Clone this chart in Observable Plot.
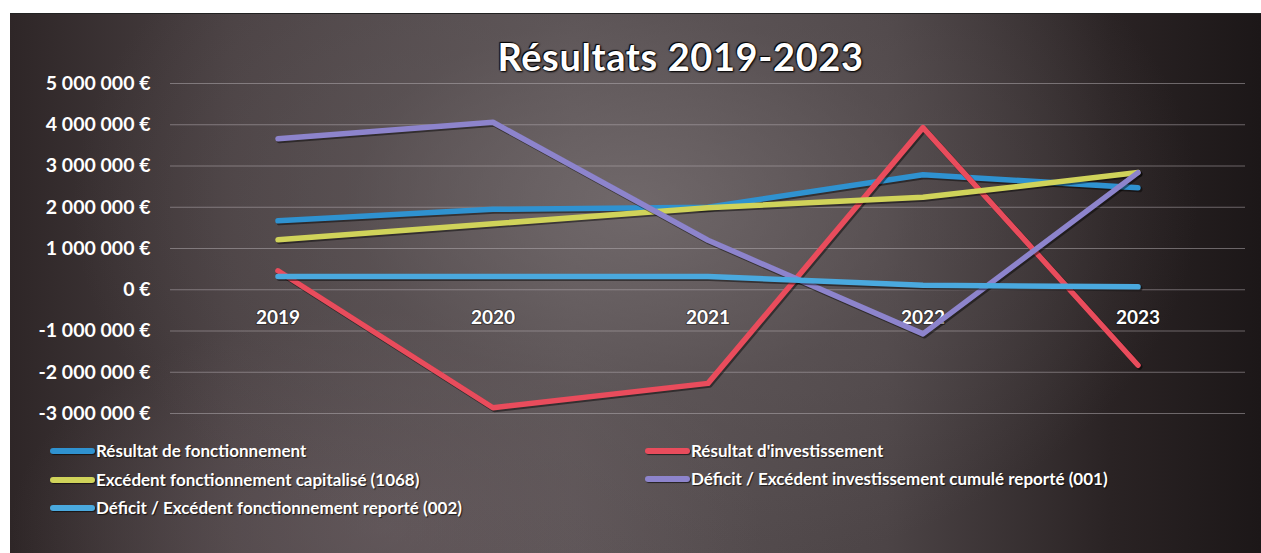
<!DOCTYPE html>
<html>
<head>
<meta charset="utf-8">
<script src="https://cdn.jsdelivr.net/npm/d3@7"></script>
<script src="https://cdn.jsdelivr.net/npm/@observablehq/plot@0.6"></script>
<style>
  html, body { margin: 0; padding: 0; background: #fff; }
  #wrap { position: relative; width: 1261px; height: 553px; overflow: hidden; background: #fff; font-family: Lato, "Open Sans", sans-serif; }
  #panel { position: absolute; left: 10px; top: 13px; width: 1251px; height: 540px;
    background:
      radial-gradient(ellipse 45% 70% at 50% 35%, rgba(120,112,114,0.75) 0%, rgba(100,92,94,0.4) 50%, rgba(0,0,0,0) 100%),
      radial-gradient(ellipse 30% 40% at 30% 95%, rgba(110,98,102,0.55) 0%, rgba(0,0,0,0) 100%),
      linear-gradient(90deg, #2e2627 0%, #4a4143 18%, #5a5254 45%, #4c4446 70%, #2a2324 88%, #1c1718 100%);
    border-top: 1px solid #222; }
  #chart { position: absolute; left: 0; top: 0; }
  #title { position: absolute; left: 0; width: 1261px; top: 33px; text-align: center; margin-left: 50px;
    color: #fff; font-size: 38px; font-weight: bold; letter-spacing: 0.6px;
    text-shadow: 0 0 2px #000, 1px 1px 2px #000, -1px -1px 1px #000; }
  .leg { position: absolute; display: flex; align-items: center; color: #fff; font-size: 17px; font-weight: bold;
    text-shadow: 1px 1px 1px rgba(0,0,0,0.7); white-space: nowrap; }
  .sw { width: 45px; height: 6px; border-radius: 3px; margin-right: 1px; box-shadow: 1px 1px 1px rgba(0,0,0,0.6); }
</style>
</head>
<body>
<div id="wrap">
  <div id="panel"></div>
  <div id="chart"></div>
  <div id="title">Résultats 2019-2023</div>
  <div id="legend"></div>
</div>
<script>
const years = [2019, 2020, 2021, 2022, 2023];
const seriesNames = [
  "Résultat de fonctionnement",
  "Résultat d'investissement",
  "Excédent fonctionnement capitalisé (1068)",
  "Déficit / Excédent investissement cumulé reporté (001)",
  "Déficit / Excédent fonctionnement reporté (002)"
];
const fonctionnement = [1670000, 1950000, 2000000, 2790000, 2470000];
const investissement = [460000, -2860000, -2270000, 3930000, -1830000];
const capitalise = [1210000, 1600000, 1990000, 2240000, 2840000];
const deficitInvest = [3660000, 4060000, 1200000, -1070000, 2840000];
const deficitFonct = [320000, 320000, 320000, 110000, 70000];
const colors = ["#2f92d0", "#e94c5c", "#d0d35a", "#8d84cc", "#4aa9de"];
const yTicks = [-3000000, -2000000, -1000000, 0, 1000000, 2000000, 3000000, 4000000, 5000000];

const allValues = [fonctionnement, investissement, capitalise, deficitInvest, deficitFonct];
const data = [];
seriesNames.forEach((name, i) => {
  years.forEach((yr, j) => data.push({series: name, year: yr, value: allValues[i][j], idx: i}));
});

const fmt = v => {
  const s = Math.abs(v).toString().replace(/\B(?=(\d{3})+(?!\d))/g, " ");
  return (v < 0 ? "-" : "") + s + " €";
};

const lineMarks = [];
seriesNames.forEach((name, i) => {
  const d = data.filter(r => r.series === name);
  lineMarks.push(Plot.line(d, {x: "year", y: "value", stroke: "#000", strokeOpacity: 0.45, strokeWidth: 6, dx: 1.5, dy: 1.5, strokeLinecap: "round", strokeLinejoin: "round"}));
  lineMarks.push(Plot.line(d, {x: "year", y: "value", stroke: colors[i], strokeWidth: 5.5, strokeLinecap: "round", strokeLinejoin: "round"}));
});

const chart = Plot.plot({
  width: 1261,
  height: 553,
  marginTop: 83,
  marginBottom: 140,
  marginLeft: 170,
  marginRight: 16,
  style: {background: "transparent", fontFamily: "Lato, 'Open Sans', sans-serif", fontSize: "19px", fontWeight: "bold", color: "#fff"},
  x: {domain: [2018.5, 2023.5], axis: null},
  y: {domain: [-3000000, 5000000], axis: null},
  marks: [
    Plot.ruleY(yTicks, {stroke: "#b8b2b5", strokeOpacity: 0.5, strokeWidth: 1.1}),
    Plot.axisY({ticks: yTicks, tickSize: 0, tickPadding: 20, tickFormat: fmt, label: null, fill: "#fff", fontSize: 19.5, fontWeight: "bold"}),
    Plot.text(years, {x: d => d, y: 0, dy: 28, text: d => String(d), fill: "#fff", fontSize: 19, fontWeight: "bold", stroke: "#000", strokeOpacity: 0.35, strokeWidth: 2, paintOrder: "stroke"}),
    ...lineMarks
  ]
});
document.getElementById("chart").appendChild(chart);

const legendPos = [
  {left: 50, top: 440}, {left: 645, top: 440},
  {left: 50, top: 469}, {left: 645, top: 468},
  {left: 50, top: 497}
];
const legend = document.getElementById("legend");
seriesNames.forEach((name, i) => {
  const el = document.createElement("div");
  el.className = "leg";
  el.style.left = legendPos[i].left + "px";
  el.style.top = legendPos[i].top + "px";
  const sw = document.createElement("div");
  sw.className = "sw";
  sw.style.background = colors[i];
  const tx = document.createElement("span");
  tx.textContent = name;
  el.appendChild(sw);
  el.appendChild(tx);
  legend.appendChild(el);
});
</script>
</body>
</html>
